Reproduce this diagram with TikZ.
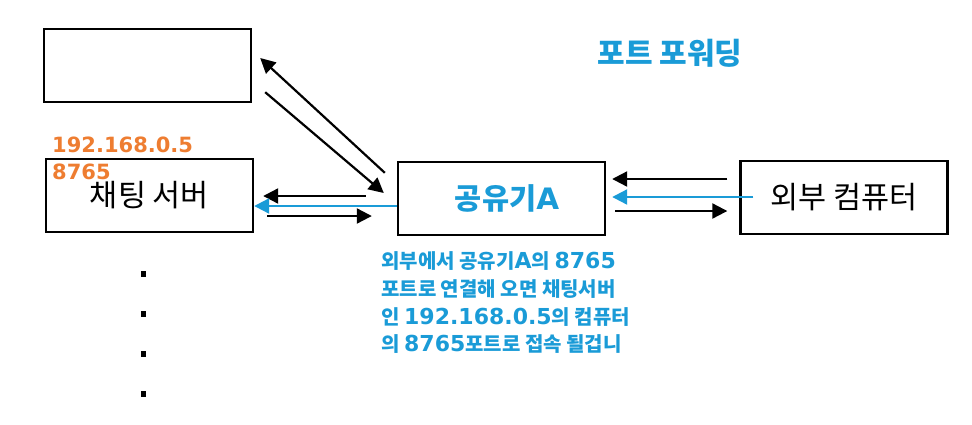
\documentclass[tikz,border=0pt]{standalone}
\usepackage{fontspec}
\setmainfont{Noto Sans CJK KR}
\newfontfamily\numfont{DejaVu Sans}
\usetikzlibrary{arrows.meta}

\definecolor{fwdblue}{HTML}{1A9BD7}
\definecolor{iporange}{HTML}{EE7D31}
\newcommand{\nb}[1]{{\numfont\bfseries\fontsize{22}{22}\selectfont #1}}

\begin{document}
\begin{tikzpicture}[x=1pt,y=-1pt,
  box/.style={draw,line width=2.4pt,minimum width=207pt,minimum height=73pt,inner sep=0pt,
    font=\fontsize{30.5}{30.5}\selectfont},
  arr/.style={line width=2.2pt,-{Triangle[length=15pt,width=15pt]}},
  barr/.style={arr,fwdblue},
  ip/.style={text=iporange,font=\numfont\bfseries\fontsize{21}{21}\selectfont,inner sep=0pt,anchor=west},
  note/.style={text=fwdblue,font=\bfseries\fontsize{20}{20}\selectfont,inner sep=0pt,anchor=base west}]

\useasboundingbox (0,0) rectangle (972,424);

\node[box] (top) at (147.5,65.5) {};
\node[box] (chat) at (149.5,195.5) {채팅 서버};
\node[box,text=fwdblue,font=\bfseries\fontsize{29.5}{29.5}\selectfont] (router) at (501.5,198.5) {\hspace*{11pt}공유기{\numfont A}};
\node[box] (ext) at (844,197.5) {외부 컴퓨터};

\node[text=fwdblue,font=\bfseries\fontsize{30}{30}\selectfont] (title) at (670,53) {포트 포워딩};

\node[ip] (ipaddr) at (52,145) {192.168.0.5};
\node[ip] (port) at (52,172) {8765};

\node[note] (line1) at (381,268) {외부에서 공유기\nb{A}의 \nb{8765}};
\node[note] (line2) at (381,296) {포트로 연결해 오면 채팅서버};
\node[note] (line3) at (381,324) {인 \nb{192.168.0.5}의 컴퓨터};
\node[note] (line4) at (381,351) {의 \nb{8765}포트로 접속 될겁니};

% top box <-> router
\draw[arr] ([shift={(-12,12)}]router.north west) -- ([shift={(8,-7.5)}]top.east);
\draw[arr] ([shift={(13,-11)}]top.south east) -- ([shift={(-13,-5.5)}]router.west);

% chat server <-> router
\draw[arr] ([shift={(-31,-2.5)}]router.west) -- ([shift={(9,0.5)}]chat.east);
\draw[barr] ([shift={(0,7.5)}]router.west) -- ([shift={(0,10.5)}]chat.east);
\draw[arr] ([shift={(13,20.5)}]chat.east) -- ([shift={(-25,17.5)}]router.west);

% router <-> external
\draw[arr] ([shift={(-12,-18.5)}]ext.west) -- ([shift={(6,-19.5)}]router.east);
\draw[barr] ([shift={(14,-0.5)}]ext.west) -- ([shift={(6,-1.5)}]router.east);
\draw[arr] ([shift={(9,12.5)}]router.east) -- ([shift={(-12,13.5)}]ext.west);

\foreach \y in {274,314,354,394}
  \fill (140.5,\y-2.75) rectangle +(5.5,5.5);

\end{tikzpicture}
\end{document}
